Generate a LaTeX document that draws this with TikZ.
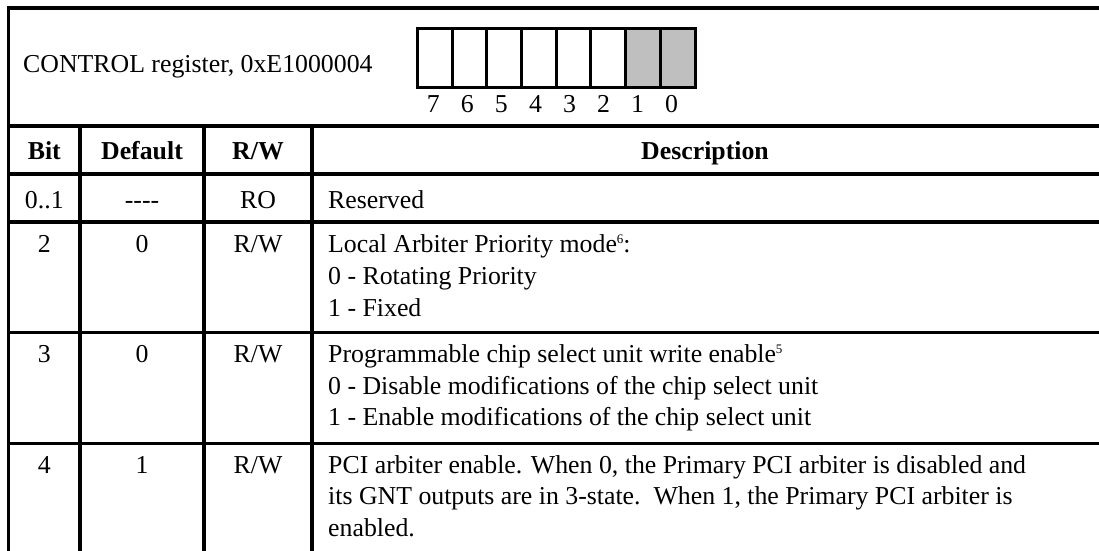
\documentclass[tikz,border=0pt]{standalone}
\usepackage{fontspec}
\setmainfont{Liberation Serif}
% small raised footnote marks
\newcommand{\fnmark}[1]{\raisebox{8.5pt}{\fontsize{13}{13}\selectfont #1}}
\begin{document}
\begin{tikzpicture}[x=1pt,y=-1pt,
  rule/.style={line width=3.5pt},
  regline/.style={line width=3pt},
  txt/.style={inner sep=0pt, font=\fontsize{25.8}{32}\selectfont},
  head/.style={txt, font=\fontsize{25.8}{32}\selectfont\bfseries},
  lft/.style={anchor=base west},
  ctr/.style={anchor=base}]
\useasboundingbox (0,0) rectangle (1099,550);
\clip (0,0) rectangle (1099,550);
\fill[white] (0,0) rectangle (1099,550);

% register picture
\fill[gray!50] ({417.5+34.69*6},28.5) rectangle (695,87.5);
\draw[regline] (417.5,28.5) rectangle (695,87.5);
\foreach \i in {1,...,7}
  \draw[regline] ({417.5+34.69*\i},28.5) -- ++(0,59);
\foreach \b [count=\k from 0] in {7,6,5,4,3,2,1,0}
  \node[txt, ctr] (bit\b) at ({433.3+34.05*\k},112.5) {\b};
\node[txt, lft] (regname) at (23,72.7) {CONTROL register, 0xE1000004};

% table rules
\draw[rule] (8.5,580) -- (8.5,8) -- (1120,8);
\foreach \y in {126,174,222,332.5,443.5}
  \draw[rule] (8.5,\y) -- (1120,\y);
\foreach \x in {80,204,312}
  \draw[rule] (\x,126) -- (\x,580);

% header row
\node[head, ctr] (hbit) at (44.3,159) {Bit};
\node[head, ctr] (hdef) at (142,159) {Default};
\node[head, ctr] (hrw)  at (258,159) {R/W};
\node[head, ctr] (hdesc) at (705,159) {Description};

% bits 0..1
\node[txt, ctr] (b01) at (44.3,208.5) {0..1};
\node[txt, ctr] (d01) at (142,208.5) {-{}-{}-{}-};
\node[txt, ctr] (a01) at (258,208.5) {RO};
\node[txt, lft] (t01) at (328,208.5) {Reserved};

% bit 2
\node[txt, ctr] (b2) at (44.3,252) {2};
\node[txt, ctr] (d2) at (142,252) {0};
\node[txt, ctr] (a2) at (258,252) {R/W};
\node[txt, lft] (t2a) at (328,252) {Local Arbiter Priority mode\fnmark{6}:};
\node[txt, lft] (t2b) at (328,284) {0 - Rotating Priority};
\node[txt, lft] (t2c) at (328,316.5) {1 - Fixed};

% bit 3
\node[txt, ctr] (b3) at (44.3,362) {3};
\node[txt, ctr] (d3) at (142,362) {0};
\node[txt, ctr] (a3) at (258,362) {R/W};
\node[txt, lft] (t3a) at (328,362) {Programmable chip select unit write enable\fnmark{5}};
\node[txt, lft] (t3b) at (328,394) {0 - Disable modifications of the chip select unit};
\node[txt, lft] (t3c) at (328,425.5) {1 - Enable modifications of the chip select unit};

% bit 4
\node[txt, ctr] (b4) at (44.3,473.5) {4};
\node[txt, ctr] (d4) at (142,473.5) {1};
\node[txt, ctr] (a4) at (258,473.5) {R/W};
\node[txt, lft] (t4a) at (328,473.5) {PCI arbiter enable. When 0, the Primary PCI arbiter is disabled and};
\node[txt, lft] (t4b) at (328,504.5) {its GNT outputs are in 3-state.\ \ When 1, the Primary PCI arbiter is};
\node[txt, lft] (t4c) at (328,536) {enabled.};
\end{tikzpicture}
\end{document}
